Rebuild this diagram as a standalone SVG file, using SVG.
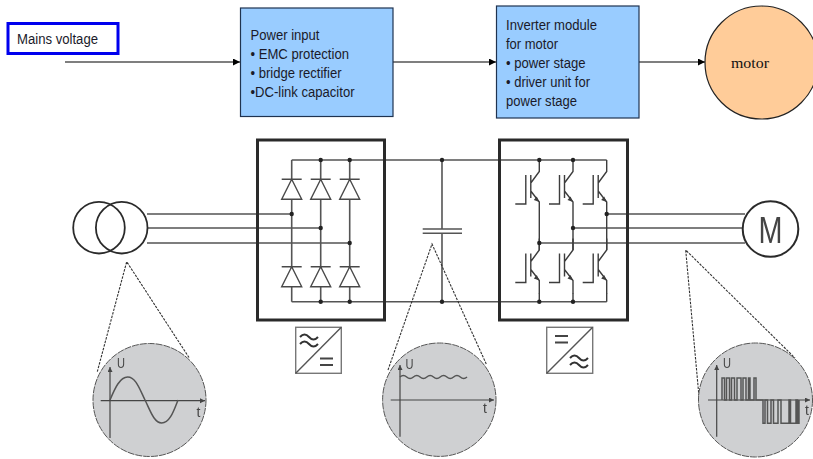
<svg xmlns="http://www.w3.org/2000/svg" xmlns:xlink="http://www.w3.org/1999/xlink" width="813" height="459" viewBox="0 0 813 459">
<style>
.lbl{font-family:"Liberation Sans",Arial,sans-serif;font-size:14px;fill:#1a1a2a}
.blk{fill:#99ccff;stroke:#1f3350;stroke-width:1.2}
.arr{fill:none;stroke:#000;stroke-width:1.2;marker-end:url(#ah)}
.w{fill:none;stroke:#3c3c3c;stroke-width:1.4}
.dio{fill:#fff;stroke:#4a4a4a;stroke-width:1.4}
.w2{fill:none;stroke:#555;stroke-width:1.6}
.box{fill:none;stroke:#2b2b2b;stroke-width:3}
.sym{fill:#fff;stroke:#777;stroke-width:1.4}
.dash{fill:none;stroke:#333;stroke-width:1.1;stroke-dasharray:2.500 1.200}
.scope{fill:#cfd0d2;stroke:#555;stroke-width:1;stroke-dasharray:7 1}
.ax{fill:none;stroke:#444;stroke-width:1.2;marker-end:url(#axh)}
.tr{fill:none;stroke:#555;stroke-width:1.500}
.ax-t{font-family:"Liberation Sans",Arial,sans-serif;font-size:14px;fill:#444}
.d{fill:#222}
</style>
<defs>
<marker id="ah" markerWidth="8" markerHeight="8" refX="7" refY="3.5" orient="auto" markerUnits="userSpaceOnUse"><path d="M0 0L7 3.5L0 7Z" fill="#000"/></marker>
<marker id="axh" markerWidth="6" markerHeight="6" refX="5" refY="2.5" orient="auto" markerUnits="userSpaceOnUse"><path d="M0 0L5 2.5L0 5Z" fill="#444"/></marker>
<filter id="soft" x="-2%" y="-2%" width="104%" height="104%"><feGaussianBlur stdDeviation="0.35"/></filter>
<g id="diode"><path class="dio" d="M-10 0H10M0 0L-10 20H10Z"/></g>
<g id="igbt">
<path class="w" d="M0 0V11.500L-8.500 23M-8.500 31L0 42V55M-8.500 15V38M-13.500 15V44H-24"/>
<path d="M0 42L-5.500 40L-2.500 36.500Z" fill="#3c3c3c"/>
</g>
</defs>

<g id="connectors">
<path class="arr" d="M65 62H240"/>
<path class="arr" d="M393 62H496"/>
<path class="arr" d="M639 62H705"/>
</g>

<g id="mains-voltage">
<rect x="8" y="23.500" width="110" height="30" fill="#fff" stroke="#0000ee" stroke-width="3"/>
<text class="lbl" x="17" y="44" textLength="81" lengthAdjust="spacingAndGlyphs">Mains voltage</text>
</g>
<g id="power-input">
<rect class="blk" x="240.500" y="8" width="152.500" height="108.500"/>
<text class="lbl" x="250.500" y="40" textLength="69" lengthAdjust="spacingAndGlyphs">Power input</text>
<text class="lbl" x="250.500" y="59" textLength="98.500" lengthAdjust="spacingAndGlyphs">• EMC protection</text>
<text class="lbl" x="250.500" y="78" textLength="91" lengthAdjust="spacingAndGlyphs">• bridge rectifier</text>
<text class="lbl" x="250.500" y="97" textLength="104" lengthAdjust="spacingAndGlyphs">•DC-link capacitor</text>
</g>
<g id="inverter-module">
<rect class="blk" x="496.500" y="6" width="142.500" height="112"/>
<text class="lbl" x="506" y="30" textLength="91" lengthAdjust="spacingAndGlyphs">Inverter module</text>
<text class="lbl" x="506" y="49" textLength="52" lengthAdjust="spacingAndGlyphs">for motor</text>
<text class="lbl" x="506" y="68" textLength="79.500" lengthAdjust="spacingAndGlyphs">• power stage</text>
<text class="lbl" x="506" y="87" textLength="84" lengthAdjust="spacingAndGlyphs">• driver unit for</text>
<text class="lbl" x="506" y="106" textLength="71" lengthAdjust="spacingAndGlyphs">power stage</text>
</g>
<g id="motor-block">
<circle cx="761.500" cy="62.500" r="56.500" fill="#ffcc99" stroke="#222" stroke-width="1.2"/>
<text x="731" y="68" font-family="Liberation Serif,Times New Roman,serif" font-size="14" fill="#111" textLength="38" lengthAdjust="spacingAndGlyphs">motor</text>
</g>

<g id="schematic" filter="url(#soft)">
<g id="lines">
<path class="w2" d="M147 214H291.700M147 228H320.700M147 243H349.700"/>
<path class="w2" d="M291.700 160V301.700M320.700 160V301.700M349.700 160V301.700"/>
<path class="w2" d="M291.700 160H606.700M291.700 301.700H606.700"/>
<path class="w2" d="M442 160V229M442 233.300V301.700M422.700 229H462M422.700 233.300H462"/>
<path class="w2" d="M606.700 214H745M573 228H743M539.300 243H745"/>
</g>
<g id="rectifier">
<rect class="box" x="257.500" y="140" width="127" height="180"/>
<use xlink:href="#diode" x="291.700" y="179.300"/><use xlink:href="#diode" x="320.700" y="179.300"/><use xlink:href="#diode" x="349.700" y="179.300"/>
<use xlink:href="#diode" x="291.700" y="266.700"/><use xlink:href="#diode" x="320.700" y="266.700"/><use xlink:href="#diode" x="349.700" y="266.700"/>
<circle class="d" cx="320.700" cy="160" r="2.200"/><circle class="d" cx="349.700" cy="160" r="2.200"/>
<circle class="d" cx="291.700" cy="214" r="2.200"/><circle class="d" cx="320.700" cy="228" r="2.200"/><circle class="d" cx="349.700" cy="243" r="2.200"/>
<circle class="d" cx="320.700" cy="301.700" r="2.200"/><circle class="d" cx="349.700" cy="301.700" r="2.200"/>
</g>
<g id="dc-link">
<circle class="d" cx="442" cy="160" r="2.200"/><circle class="d" cx="442" cy="301.700" r="2.200"/>
</g>
<g id="inverter">
<rect class="box" x="499.500" y="140" width="128" height="180"/>
<path class="w" d="M539.300 215V250M573 215V250M606.700 215V250M539.300 293V301.700M573 293V301.700M606.700 293V301.700"/>
<use xlink:href="#igbt" x="539.300" y="160"/><use xlink:href="#igbt" x="573" y="160"/><use xlink:href="#igbt" x="606.700" y="160"/>
<use xlink:href="#igbt" x="539.300" y="238.500"/><use xlink:href="#igbt" x="573" y="238.500"/><use xlink:href="#igbt" x="606.700" y="238.500"/>
<circle class="d" cx="539.300" cy="160" r="2.200"/><circle class="d" cx="573" cy="160" r="2.200"/>
<circle class="d" cx="606.700" cy="214" r="2.200"/><circle class="d" cx="573" cy="228" r="2.200"/><circle class="d" cx="539.300" cy="243" r="2.200"/>
<circle class="d" cx="539.300" cy="301.700" r="2.200"/><circle class="d" cx="573" cy="301.700" r="2.200"/>
</g>
<g id="transformer" fill="none" stroke="#2b2b2b" stroke-width="1.800">
<circle cx="99" cy="227.700" r="25.800"/><circle cx="121.700" cy="227.700" r="25.800"/>
</g>
<g id="motor-symbol">
<circle cx="770.500" cy="229" r="27.800" fill="#fff" stroke="#2b2b2b" stroke-width="2"/>
<text x="758.500" y="243" font-family="Liberation Sans,Arial,sans-serif" font-size="36" fill="#444" textLength="24" lengthAdjust="spacingAndGlyphs">M</text>
</g>
<g id="ac-dc-symbol">
<rect class="sym" x="295.700" y="327.300" width="45.600" height="46"/>
<path d="M295.700 373.300L341.300 327.300" stroke="#555" stroke-width="1.400" fill="none"/>
<path d="M300 337q4.500-5 9 0t9 0M300 344q4.500-5 9 0t9 0" fill="none" stroke="#333" stroke-width="2"/>
<path d="M320 358.500H333M320 365H333" stroke="#444" stroke-width="2.200" fill="none"/>
</g>
<g id="dc-ac-symbol">
<rect class="sym" x="546.700" y="327.300" width="46" height="46"/>
<path d="M546.700 373.300L592.700 327.300" stroke="#555" stroke-width="1.400" fill="none"/>
<path d="M555 336H568M555 342.500H568" stroke="#444" stroke-width="2.200" fill="none"/>
<path d="M570 358q4.500-5 9 0t9 0M570 365q4.500-5 9 0t9 0" fill="none" stroke="#333" stroke-width="2"/>
</g>
<g id="scope-mains">
<path class="dash" d="M97.300 371.700L126.700 261.700L189.300 358"/>
<circle class="scope" cx="149.500" cy="400" r="56.500"/>
<path class="ax" d="M110 438V367"/><path class="ax" d="M100.700 400.700H205"/>
<path class="tr" d="M110 400C115 388 120 377 127.700 377C136 377 140 390 145 400C150 410 154 423 161.700 423C170 423 174 410 178 400"/>
<text class="ax-t" x="117" y="368" textLength="8" lengthAdjust="spacingAndGlyphs">U</text><text class="ax-t" x="196.500" y="417" font-size="15">t</text>
</g>
<g id="scope-dc">
<path class="dash" d="M388 370L432 244L486.700 365"/>
<circle class="scope" cx="439.300" cy="399.700" r="56.700"/>
<path class="ax" d="M400 436.700V365"/><path class="ax" d="M390.700 400H494"/>
<path class="tr" d="M400 377q3.350-3 6.700 0t6.700 0t6.700 0t6.700 0t6.700 0t6.700 0t6.700 0t6.700 0t6.700 0t6.700 0" stroke-width="1.300"/>
<text class="ax-t" x="405.500" y="369" textLength="8" lengthAdjust="spacingAndGlyphs">U</text><text class="ax-t" x="483" y="413">t</text>
</g>
<g id="scope-inverter">
<path class="dash" d="M699.300 400L685.700 250L795 358"/>
<circle class="scope" cx="755.500" cy="400" r="57"/>
<path class="ax" d="M716.700 436.700V365"/><path class="ax" d="M708 400H810"/>
<path class="tr" d="M722 400V378H724.500V400H726.500V378H729.500V400H731.500V378H734.500V400H737V378H741V400H743V378H746V400H748.500V378H750V400H754V378H756V400H763V423.300H765V400H767.500V423.300H771V400H773.500V423.300H778V400H781V423.300H789V400H790.500V423.300H796V400H797.500V423.300H799V400"/>
<text class="ax-t" x="723" y="368" textLength="8" lengthAdjust="spacingAndGlyphs">U</text><text class="ax-t" x="805" y="415">t</text>
</g>
</g>
</svg>
